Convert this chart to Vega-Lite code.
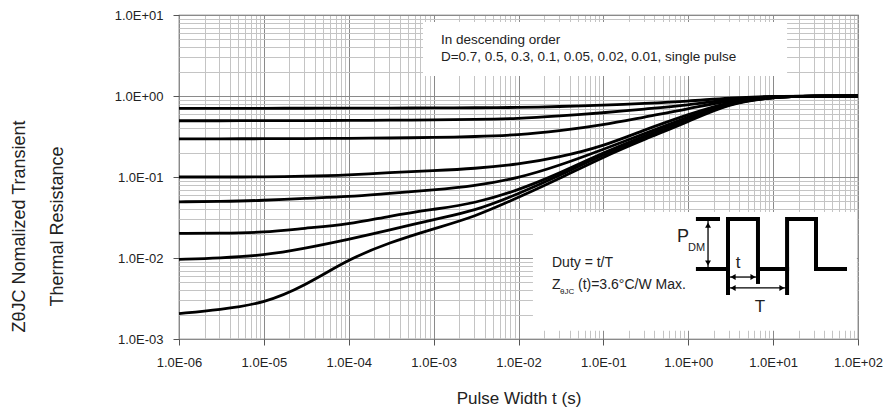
{
  "$schema": "https://vega.github.io/schema/vega-lite/v6.json",
  "width": 679,
  "height": 324,
  "autosize": {"type": "none"},
  "padding": {"left": 179, "top": 15, "right": 28, "bottom": 68},
  "background": "white",
  "config": {
    "font": "Liberation Sans",
    "view": {"stroke": "#555", "strokeWidth": 1.2}
  },
  "encoding": {
    "x": {
      "field": "x", "type": "quantitative",
      "scale": {"type": "log", "domain": [1e-6, 100], "nice": false},
      "axis": {
        "title": "Pulse Width t (s)",
        "titleFontSize": 17, "titleFontWeight": "normal", "titleColor": "#222",
        "titleBaseline": "alphabetic", "titleY": 64,
        "values": [1e-6,2e-6,3e-6,4e-6,5e-6,6e-6,7e-6,8e-6,9e-6,1e-5,2e-5,3e-5,4e-5,5e-5,6e-5,7e-5,8e-5,9e-5,1e-4,2e-4,3e-4,4e-4,5e-4,6e-4,7e-4,8e-4,9e-4,0.001,0.002,0.003,0.004,0.005,0.006,0.007,0.008,0.009,0.01,0.02,0.03,0.04,0.05,0.06,0.07,0.08,0.09,0.1,0.2,0.3,0.4,0.5,0.6,0.7,0.8,0.9,1,2,3,4,5,6,7,8,9,10,20,30,40,50,60,70,80,90,100],
        "labelExpr": "abs(log(datum.value)/LN10 - round(log(datum.value)/LN10)) < 0.001 ? '1.0E' + (datum.value >= 0.999 ? '+' : '-') + pad(toString(abs(round(log(datum.value)/LN10))), 2, '0', 'left') : ''",
        "labelFontSize": 13, "labelColor": "#222", "labelPadding": 11,
        "labelFlush": false, "labelOverlap": false,
        "tickSize": 6, "tickColor": "#555",
        "tickOpacity": {"condition": {"test": "abs(log(datum.value)/LN10 - round(log(datum.value)/LN10)) < 0.001", "value": 1}, "value": 0},
        "grid": true, "gridWidth": 1,
        "gridColor": {"condition": {"test": "abs(log(datum.value)/LN10 - round(log(datum.value)/LN10)) < 0.001", "value": "#8a8a8a"}, "value": "#c4c4c4"},
        "domain": false
      }
    },
    "y": {
      "field": "y", "type": "quantitative",
      "scale": {"type": "log", "domain": [0.001, 10], "nice": false},
      "axis": {
        "title": ["Z\u03b8JC Nomalized Transient", "Thermal Resistance"],
        "titleFontSize": 18, "titleFontWeight": "normal", "titleColor": "#222",
        "titleAngle": -90, "titleAlign": "center", "titleBaseline": "alphabetic",
        "titleX": -155, "titleY": 211, "titleLineHeight": 38,
        "values": [0.001,0.002,0.003,0.004,0.005,0.006,0.007,0.008,0.009,0.01,0.02,0.03,0.04,0.05,0.06,0.07,0.08,0.09,0.1,0.2,0.3,0.4,0.5,0.6,0.7,0.8,0.9,1,2,3,4,5,6,7,8,9,10],
        "labelExpr": "abs(log(datum.value)/LN10 - round(log(datum.value)/LN10)) < 0.001 ? '1.0E' + (datum.value >= 0.999 ? '+' : '-') + pad(toString(abs(round(log(datum.value)/LN10))), 2, '0', 'left') : ''",
        "labelFontSize": 13, "labelColor": "#222", "labelPadding": 10,
        "labelOverlap": false, "labelFlush": false,
        "tickSize": 6, "tickColor": "#555",
        "tickOpacity": {"condition": {"test": "abs(log(datum.value)/LN10 - round(log(datum.value)/LN10)) < 0.001", "value": 1}, "value": 0},
        "grid": true, "gridWidth": 1,
        "gridColor": {"condition": {"test": "abs(log(datum.value)/LN10 - round(log(datum.value)/LN10)) < 0.001", "value": "#8a8a8a"}, "value": "#c4c4c4"},
        "domain": false
      }
    }
  },
  "layer": [
    {
      "data": {"values": [
        {"x": 0.00075, "x2": 14.6, "y": 8.2, "y2": 1.77},
        {"x": 0.0148, "x2": 97, "y": 0.037, "y2": 0.00126}
      ]},
      "mark": {"type": "rect", "fill": "white", "stroke": null},
      "encoding": {"x2": {"field": "x2"}, "y2": {"field": "y2"}}
    },
    {
      "data": {"values": [
        {"D": "single", "x": 1e-6, "y": 0.00206}, {"D": "single", "x": 3e-6, "y": 0.0023}, {"D": "single", "x": 1e-5, "y": 0.00275}, {"D": "single", "x": 3e-5, "y": 0.0045}, {"D": "single", "x": 1e-4, "y": 0.0097}, {"D": "single", "x": 3e-4, "y": 0.0155}, {"D": "single", "x": 0.001, "y": 0.023}, {"D": "single", "x": 0.003, "y": 0.032}, {"D": "single", "x": 0.01, "y": 0.056}, {"D": "single", "x": 0.03, "y": 0.095}, {"D": "single", "x": 0.1, "y": 0.177}, {"D": "single", "x": 0.3, "y": 0.29}, {"D": "single", "x": 1, "y": 0.48}, {"D": "single", "x": 3, "y": 0.81}, {"D": "single", "x": 10, "y": 0.97}, {"D": "single", "x": 30, "y": 1.0}, {"D": "single", "x": 100, "y": 1.0},
        {"D": "0.01", "x": 1e-6, "y": 0.0096}, {"D": "0.01", "x": 3e-6, "y": 0.0100}, {"D": "0.01", "x": 1e-5, "y": 0.0108}, {"D": "0.01", "x": 3e-5, "y": 0.0131}, {"D": "0.01", "x": 1e-4, "y": 0.017}, {"D": "0.01", "x": 3e-4, "y": 0.022}, {"D": "0.01", "x": 0.001, "y": 0.030}, {"D": "0.01", "x": 0.003, "y": 0.038}, {"D": "0.01", "x": 0.01, "y": 0.062}, {"D": "0.01", "x": 0.03, "y": 0.103}, {"D": "0.01", "x": 0.1, "y": 0.19}, {"D": "0.01", "x": 0.3, "y": 0.30}, {"D": "0.01", "x": 1, "y": 0.50}, {"D": "0.01", "x": 3, "y": 0.82}, {"D": "0.01", "x": 10, "y": 0.97}, {"D": "0.01", "x": 30, "y": 1.0}, {"D": "0.01", "x": 100, "y": 1.0},
        {"D": "0.02", "x": 1e-6, "y": 0.0201}, {"D": "0.02", "x": 3e-6, "y": 0.0202}, {"D": "0.02", "x": 1e-5, "y": 0.0206}, {"D": "0.02", "x": 3e-5, "y": 0.0233}, {"D": "0.02", "x": 1e-4, "y": 0.026}, {"D": "0.02", "x": 3e-4, "y": 0.033}, {"D": "0.02", "x": 0.001, "y": 0.040}, {"D": "0.02", "x": 0.003, "y": 0.047}, {"D": "0.02", "x": 0.01, "y": 0.069}, {"D": "0.02", "x": 0.03, "y": 0.11}, {"D": "0.02", "x": 0.1, "y": 0.20}, {"D": "0.02", "x": 0.3, "y": 0.32}, {"D": "0.02", "x": 1, "y": 0.52}, {"D": "0.02", "x": 3, "y": 0.83}, {"D": "0.02", "x": 10, "y": 0.97}, {"D": "0.02", "x": 30, "y": 1.0}, {"D": "0.02", "x": 100, "y": 1.0},
        {"D": "0.05", "x": 1e-6, "y": 0.0494}, {"D": "0.05", "x": 3e-6, "y": 0.0500}, {"D": "0.05", "x": 1e-5, "y": 0.0513}, {"D": "0.05", "x": 3e-5, "y": 0.0546}, {"D": "0.05", "x": 1e-4, "y": 0.057}, {"D": "0.05", "x": 3e-4, "y": 0.063}, {"D": "0.05", "x": 0.001, "y": 0.069}, {"D": "0.05", "x": 0.003, "y": 0.077}, {"D": "0.05", "x": 0.01, "y": 0.097}, {"D": "0.05", "x": 0.03, "y": 0.138}, {"D": "0.05", "x": 0.1, "y": 0.22}, {"D": "0.05", "x": 0.3, "y": 0.34}, {"D": "0.05", "x": 1, "y": 0.55}, {"D": "0.05", "x": 3, "y": 0.84}, {"D": "0.05", "x": 10, "y": 0.975}, {"D": "0.05", "x": 30, "y": 1.0}, {"D": "0.05", "x": 100, "y": 1.0},
        {"D": "0.1", "x": 1e-6, "y": 0.100}, {"D": "0.1", "x": 3e-6, "y": 0.100}, {"D": "0.1", "x": 1e-5, "y": 0.100}, {"D": "0.1", "x": 3e-5, "y": 0.102}, {"D": "0.1", "x": 1e-4, "y": 0.106}, {"D": "0.1", "x": 3e-4, "y": 0.113}, {"D": "0.1", "x": 0.001, "y": 0.120}, {"D": "0.1", "x": 0.003, "y": 0.127}, {"D": "0.1", "x": 0.01, "y": 0.143}, {"D": "0.1", "x": 0.03, "y": 0.175}, {"D": "0.1", "x": 0.1, "y": 0.24}, {"D": "0.1", "x": 0.3, "y": 0.38}, {"D": "0.1", "x": 1, "y": 0.59}, {"D": "0.1", "x": 3, "y": 0.86}, {"D": "0.1", "x": 10, "y": 0.98}, {"D": "0.1", "x": 30, "y": 1.0}, {"D": "0.1", "x": 100, "y": 1.0},
        {"D": "0.3", "x": 1e-6, "y": 0.296}, {"D": "0.3", "x": 3e-6, "y": 0.296}, {"D": "0.3", "x": 1e-5, "y": 0.297}, {"D": "0.3", "x": 3e-5, "y": 0.298}, {"D": "0.3", "x": 1e-4, "y": 0.300}, {"D": "0.3", "x": 3e-4, "y": 0.303}, {"D": "0.3", "x": 0.001, "y": 0.307}, {"D": "0.3", "x": 0.003, "y": 0.315}, {"D": "0.3", "x": 0.01, "y": 0.33}, {"D": "0.3", "x": 0.03, "y": 0.37}, {"D": "0.3", "x": 0.1, "y": 0.44}, {"D": "0.3", "x": 0.3, "y": 0.55}, {"D": "0.3", "x": 1, "y": 0.69}, {"D": "0.3", "x": 3, "y": 0.89}, {"D": "0.3", "x": 10, "y": 0.985}, {"D": "0.3", "x": 30, "y": 1.0}, {"D": "0.3", "x": 100, "y": 1.0},
        {"D": "0.5", "x": 1e-6, "y": 0.495}, {"D": "0.5", "x": 3e-6, "y": 0.495}, {"D": "0.5", "x": 1e-5, "y": 0.496}, {"D": "0.5", "x": 3e-5, "y": 0.497}, {"D": "0.5", "x": 1e-4, "y": 0.499}, {"D": "0.5", "x": 3e-4, "y": 0.502}, {"D": "0.5", "x": 0.001, "y": 0.507}, {"D": "0.5", "x": 0.003, "y": 0.514}, {"D": "0.5", "x": 0.01, "y": 0.525}, {"D": "0.5", "x": 0.03, "y": 0.565}, {"D": "0.5", "x": 0.1, "y": 0.62}, {"D": "0.5", "x": 0.3, "y": 0.69}, {"D": "0.5", "x": 1, "y": 0.77}, {"D": "0.5", "x": 3, "y": 0.92}, {"D": "0.5", "x": 10, "y": 0.99}, {"D": "0.5", "x": 30, "y": 1.0}, {"D": "0.5", "x": 100, "y": 1.0},
        {"D": "0.7", "x": 1e-6, "y": 0.705}, {"D": "0.7", "x": 3e-6, "y": 0.705}, {"D": "0.7", "x": 1e-5, "y": 0.705}, {"D": "0.7", "x": 3e-5, "y": 0.706}, {"D": "0.7", "x": 1e-4, "y": 0.707}, {"D": "0.7", "x": 3e-4, "y": 0.709}, {"D": "0.7", "x": 0.001, "y": 0.712}, {"D": "0.7", "x": 0.003, "y": 0.716}, {"D": "0.7", "x": 0.01, "y": 0.72}, {"D": "0.7", "x": 0.03, "y": 0.74}, {"D": "0.7", "x": 0.1, "y": 0.77}, {"D": "0.7", "x": 0.3, "y": 0.81}, {"D": "0.7", "x": 1, "y": 0.86}, {"D": "0.7", "x": 3, "y": 0.95}, {"D": "0.7", "x": 10, "y": 0.995}, {"D": "0.7", "x": 30, "y": 1.0}, {"D": "0.7", "x": 100, "y": 1.0}
      ]},
      "mark": {"type": "line", "color": "black", "strokeWidth": 2.8, "interpolate": "basis"},
      "encoding": {"detail": {"field": "D"}}
    },
    {
      "data": {"values": [
        {"seg": "w", "o": 1, "x": 1.30, "y": 0.00731}, {"seg": "w", "o": 2, "x": 2.94, "y": 0.00731}, {"seg": "w", "o": 3, "x": 2.94, "y": 0.0303}, {"seg": "w", "o": 4, "x": 6.63, "y": 0.0303}, {"seg": "w", "o": 5, "x": 6.63, "y": 0.00731}, {"seg": "w", "o": 6, "x": 14.6, "y": 0.00731}, {"seg": "w", "o": 7, "x": 14.6, "y": 0.0303}, {"seg": "w", "o": 8, "x": 32.0, "y": 0.0303}, {"seg": "w", "o": 9, "x": 32.0, "y": 0.00731}, {"seg": "w", "o": 10, "x": 70.3, "y": 0.00731},
        {"seg": "e1", "o": 1, "x": 2.94, "y": 0.00731}, {"seg": "e1", "o": 2, "x": 2.94, "y": 0.0037},
        {"seg": "e2", "o": 1, "x": 6.63, "y": 0.00731}, {"seg": "e2", "o": 2, "x": 6.63, "y": 0.00506},
        {"seg": "e3", "o": 1, "x": 14.6, "y": 0.00731}, {"seg": "e3", "o": 2, "x": 14.6, "y": 0.0037},
        {"seg": "p", "o": 1, "x": 1.30, "y": 0.0303}, {"seg": "p", "o": 2, "x": 2.24, "y": 0.0303}
      ]},
      "mark": {"type": "line", "color": "black", "strokeWidth": 4, "strokeCap": "square", "strokeJoin": "miter"},
      "encoding": {"detail": {"field": "seg"}, "order": {"field": "o"}}
    },
    {
      "data": {"values": [
        {"seg": "a", "o": 1, "x": 1.71, "y": 0.0286}, {"seg": "a", "o": 2, "x": 1.71, "y": 0.00775},
        {"seg": "t", "o": 1, "x": 2.94, "y": 0.00582}, {"seg": "t", "o": 2, "x": 6.63, "y": 0.00582},
        {"seg": "T", "o": 1, "x": 2.94, "y": 0.00427}, {"seg": "T", "o": 2, "x": 14.6, "y": 0.00427}
      ]},
      "mark": {"type": "line", "color": "black", "strokeWidth": 1.3},
      "encoding": {"detail": {"field": "seg"}, "order": {"field": "o"}}
    },
    {
      "data": {"values": [
        {"x": 1.71, "y": 0.0255, "dir": "triangle-up"},
        {"x": 1.71, "y": 0.00867, "dir": "triangle-down"},
        {"x": 3.37, "y": 0.00582, "dir": "triangle-left"},
        {"x": 5.79, "y": 0.00582, "dir": "triangle-right"},
        {"x": 3.37, "y": 0.00427, "dir": "triangle-left"},
        {"x": 12.7, "y": 0.00427, "dir": "triangle-right"}
      ]},
      "mark": {"type": "point", "filled": true, "color": "black", "size": 35, "opacity": 1},
      "encoding": {"shape": {"field": "dir", "type": "nominal", "scale": null, "legend": null}}
    },
    {
      "data": {"values": [
        {"x": 0.00122, "y": 4.9, "label": "In descending order"},
        {"x": 0.00122, "y": 3.03, "label": "D=0.7, 0.5, 0.3, 0.1, 0.05, 0.02, 0.01, single pulse"}
      ]},
      "mark": {"type": "text", "align": "left", "baseline": "middle", "fontSize": 13.5, "color": "#222"},
      "encoding": {"text": {"field": "label"}}
    },
    {
      "data": {"values": [
        {"x": 0.0248, "y": 0.00867, "label": "Duty = t/T"},
        {"x": 0.0248, "y": 0.00464, "label": "Z"},
        {"x": 0.0502, "y": 0.00464, "label": "(t)=3.6\u00b0C/W Max."}
      ]},
      "mark": {"type": "text", "align": "left", "baseline": "middle", "fontSize": 14, "color": "#222"},
      "encoding": {"text": {"field": "label"}}
    },
    {
      "data": {"values": [
        {"x": 0.0308, "y": 0.0038, "label": "\u03b8JC"}
      ]},
      "mark": {"type": "text", "align": "left", "baseline": "middle", "fontSize": 8, "color": "#222"},
      "encoding": {"text": {"field": "label"}}
    },
    {
      "data": {"values": [
        {"x": 0.736, "y": 0.0182, "label": "P"}
      ]},
      "mark": {"type": "text", "align": "left", "baseline": "middle", "fontSize": 18, "color": "#222"},
      "encoding": {"text": {"field": "label"}}
    },
    {
      "data": {"values": [
        {"x": 0.993, "y": 0.0133, "label": "DM"}
      ]},
      "mark": {"type": "text", "align": "left", "baseline": "middle", "fontSize": 11, "color": "#222"},
      "encoding": {"text": {"field": "label"}}
    },
    {
      "data": {"values": [
        {"x": 3.86, "y": 0.00867, "label": "t"},
        {"x": 7.0, "y": 0.00248, "label": "T"}
      ]},
      "mark": {"type": "text", "align": "center", "baseline": "middle", "fontSize": 17, "color": "#222"},
      "encoding": {"text": {"field": "label"}}
    }
  ]
}
